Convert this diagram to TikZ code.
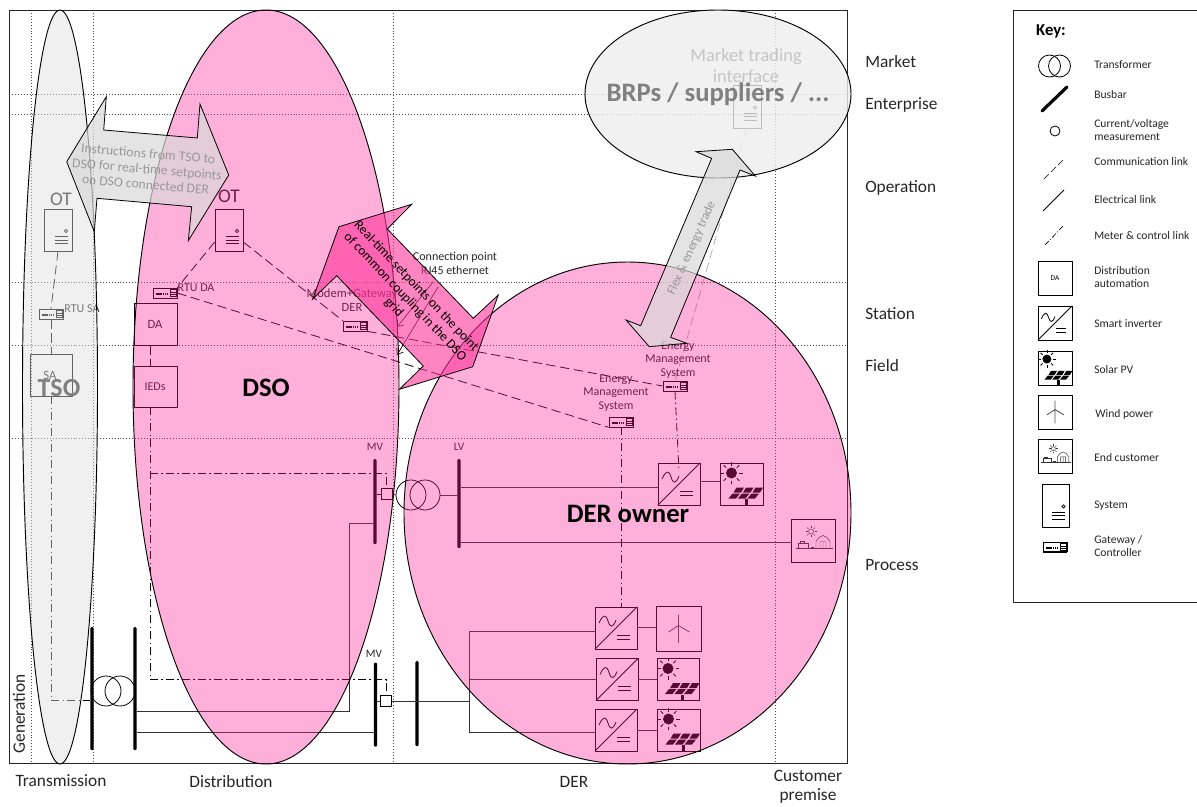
\documentclass[tikz,border=0pt]{standalone}
\usepackage{fontspec}
\setmainfont{Carlito}
\usetikzlibrary{arrows.meta,shapes.geometric}
\definecolor{dsopink}{RGB}{255,29,149}
\definecolor{arrowpink}{RGB}{255,51,153}
\tikzset{
 boxn/.style 2 args={draw,rectangle,line width=.6pt,minimum width=#1*0.75pt,minimum height=#2*0.75pt,inner sep=0pt},
 busn/.style 2 args={rectangle,fill=black,rounded corners=.9pt,minimum width=#1*0.75pt,minimum height=#2*0.75pt,inner sep=0pt},
 gate/.style={draw,rectangle,line width=.5pt,fill=white,minimum width=18pt,minimum height=7.5pt,inner sep=0pt},
 trafo/.style={draw,circle,line width=.6pt,minimum size=22.5pt,inner sep=0pt},
 elec/.style={line width=.75pt,black!80},
 comm/.style={line width=.6pt,dash pattern=on 7pt off 3.5pt},
 ctrl/.style={line width=.6pt,dash pattern=on 6pt off 2.5pt on 1pt off 2.5pt},
 gridline/.style={line width=.6pt,black!70,dash pattern=on .7pt off 1.5pt},
 lab/.style={inner sep=0pt,align=center,font=\fontsize{13}{14.5}\selectfont,text=black!85},
 keytxt/.style={inner sep=0pt,anchor=west,align=left,font=\fontsize{8.7}{10.2}\selectfont,text=black!85},
 small/.style={inner sep=0pt,align=center,font=\fontsize{9}{10.4}\selectfont,text=black!85},
 head/.style={inner sep=0pt,align=center,font=\bfseries\fontsize{20}{22}\selectfont},
 blockgrey/.style={draw=black,line width=.6pt,fill=black!15,fill opacity=.7},
 blockpink/.style={draw=black,line width=.6pt,fill=arrowpink,fill opacity=.6},
 arrowtxt/.style={inner sep=0pt,align=center,font=\fontsize{10.2}{11.6}\selectfont},
}
\newcommand{\invicon}[2]{\begin{scope}[shift={(#1.center)},scale=#2]
 \draw[line width=.6pt] (-21,21) -- (21,-21);
 \draw[line width=.6pt] (-17,-5) .. controls (-13,-14) and (-10,-14) .. (-8,-7) .. controls (-6,0) and (-3,0) .. (0,-8);
 \draw[line width=.6pt] (1,7) -- (14,7) (1,11) -- (14,11);
\end{scope}}
\newcommand{\solaricon}[2]{\begin{scope}[shift={(#1.center)},scale=#2]
 \fill (-10,-11) circle [radius=5.5];
 \foreach \a in {0,45,...,315} {\draw[line width=.6pt] ([shift={(\a:7.5)}]-10,-11) -- ([shift={(\a:11)}]-10,-11);}
 \foreach \i in {0,1,2} {
  \fill (-13+\i*9.5,14.5) -- (-5.5+\i*9.5,14.5) -- (-1.5+\i*9.5,9.5) -- (-9+\i*9.5,9.5) -- cycle;
  \fill (-8+\i*9.5,8.5) -- (-.5+\i*9.5,8.5) -- (2.5+\i*9.5,3.5) -- (-5+\i*9.5,3.5) -- cycle;
 }
 \fill (3,15) rectangle (6,21);
\end{scope}}
\newcommand{\windicon}[2]{\begin{scope}[shift={(#1.center)},scale=#2]
 \draw[line width=.6pt,black!70] (0,-3) -- (0,14) (0,-3) -- (0,-14) (0,-3) -- (-10,3.5) (0,-3) -- (11,3.5);
\end{scope}}
\newcommand{\customericon}[2]{\begin{scope}[shift={(#1.center)},scale=#2,line width=.35pt,black!80]
 \draw (-2,-9) circle [radius=2.5];
 \foreach \a in {0,45,...,315} {\draw ([shift={(\a:3.5)}]-2,-9) -- ([shift={(\a:5.5)}]-2,-9);}
 \draw (-17,8) -- (20,8);
 \draw (3,8) -- (3,1) -- (6,-3) -- (10,-5) -- (14,-3) -- (17,1) -- (17,8) (7,8) -- (7,1) -- (13,1) -- (13,8) (10,1) -- (10,8);
 \draw (-15,8) -- (-15,3) -- (-5,3) -- (-5,8) (-13,3) -- (-13,1) -- (-9,1) -- (-9,3);
 \fill (-2,6) rectangle (1,8);
\end{scope}}
\newcommand{\sysicon}[1]{\begin{scope}[shift={(#1.center)}]
 \draw[line width=.5pt] (8,1) circle [radius=1.6];
 \draw[line width=.5pt] (-3.3,6.7) -- (9.7,6.7) (-3.3,10) -- (9.7,10) (-3.3,13.7) -- (9.7,13.7);
\end{scope}}
\newcommand{\gateicon}[1]{\begin{scope}[shift={(#1.center)}]
 \draw[line width=1.2pt] (-12,5.5) -- (12,5.5);
 \draw[line width=.9pt,dash pattern=on 1pt off .4pt] (-9.5,1) -- (3,1);
 \draw[line width=.4pt] (5,-3.5) rectangle (11,3.5) (5,-1) -- (11,-1) (5,1) -- (11,1);
\end{scope}}
\begin{document}
\begin{tikzpicture}[x=0.75pt,y=-0.75pt]
\useasboundingbox (0,0) rectangle (1197,807);
% grid
\draw[gridline] (9,94) coordinate (ga) -- (847,94) coordinate (gb);
\draw[gridline] (9,114) coordinate (gc) -- (847,114) coordinate (gd);
\draw[gridline] (9,282) coordinate (ge) -- (847,282) coordinate (gf);
\draw[gridline] (9,345) coordinate (gg) -- (847,345) coordinate (gh);
\draw[gridline] (9,438.5) coordinate (gi) -- (847,438.5) coordinate (gj);
\draw[gridline] (31,10) coordinate (gk) -- (31,763) coordinate (gl);
\draw[gridline] (93,10) coordinate (gm) -- (93,763) coordinate (gn);
\draw[gridline] (393,10) coordinate (go) -- (393,763) coordinate (gp);
\draw[gridline] (775,10) coordinate (gq) -- (775,763) coordinate (gr);
\draw[line width=.6pt,black!85] (9,10) rectangle (847,763);
% buses
\node[busn={3.4}{123}] (b1) at (92,688.5) {};
\node[busn={3.4}{123}] (b2) at (135,688.5) {};
\node[busn={3.4}{84}] (b3) at (375.5,704.5) {};
\node[busn={3.4}{85}] (b4) at (417,703.5) {};
\node[busn={3.4}{85}] (mvb) at (375,501.5) {};
\node[busn={3.4}{89}] (lvb) at (459,503.5) {};
% transformers
\node[trafo] (t1l) at (106,691) {};
\node[trafo] (t1r) at (120,691) {};
\node[trafo] (t2l) at (411,495) {};
\node[trafo] (t2r) at (425,495) {};
% measurement squares
\node[boxn={11}{11}] (m1) at (386.5,494) {};
\node[boxn={11}{11},fill=white] (m2) at (386,701) {};
% power equipment
\node[boxn={42}{42}] (inv0) at (679,484) {};
\node[boxn={42}{42}] (inv1) at (616,628) {};
\node[boxn={42}{42}] (inv2) at (617,679.5) {};
\node[boxn={42}{42}] (inv3) at (616,730) {};
\node[boxn={43}{42}] (sol0) at (741.5,484) {};
\node[boxn={42}{42}] (sol2) at (678,679.5) {};
\node[boxn={43}{42}] (sol3) at (678.5,730) {};
\node[boxn={45}{45},line width=.4pt] (wind) at (678.5,628.5) {};
\node[boxn={44}{43},line width=.4pt] (cust) at (813,540.5) {};
\invicon{inv0}{1}\invicon{inv1}{1}\invicon{inv2}{1}\invicon{inv3}{1}
\solaricon{sol0}{1}\solaricon{sol2}{1}\solaricon{sol3}{1}
\windicon{wind}{1}\customericon{cust}{1}
% electrical links
\coordinate (e1) at (349.5,711);
\coordinate (e2) at (349.5,523);
\coordinate (e3) at (135,732);
\coordinate (e4) at (469,701);
\coordinate (e5) at (469,631);
\coordinate (e6) at (469,679.5);
\coordinate (e7) at (469,732);
\coordinate (e8) at (459,487);
\coordinate (e9) at (459,542);
\coordinate (e10) at (700,481);
\coordinate (e11) at (637,627);
\coordinate (e12) at (637,730);
\draw[elec] (e1 -| b2.east) -- (e1) -- (e2) -- (e2 -| mvb.west);
\draw[elec] (e3 -| b2.east) -- (e3 -| b3.west);
\draw[elec] (m2.west -| b3.east) -- (m2.west);
\draw[elec] (m2.east) -- (e4);
\draw[elec] (e5) -- (e7);
\draw[elec] (e5) -- (e5 -| inv1.west);
\draw[elec] (e6) -- (e6 -| inv2.west);
\draw[elec] (e7) -- (e7 -| inv3.west);
\draw[elec] (e8 -| lvb.east) -- (e8 -| inv0.west);
\draw[elec] (e9 -| lvb.east) -- (e9 -| cust.west);
\draw[elec] (e10) -- (e10 -| sol0.west);
\draw[elec] (e11) -- (e11 -| wind.west);
\draw[elec] (inv2.east) -- (sol2.west);
\draw[elec] (e12) -- (e12 -| sol3.west);
\draw[elec] (t2r.east) -- (t2r.east -| lvb.west);
\draw[line width=.5pt] (m1.west -| mvb.east) -- (m1.west);
\draw[line width=.5pt] (m1.east) -- (t2l.west);
% systems and boxes
\node[boxn={28}{42}] (osa) at (58,230) {};
\node[boxn={28}{42}] (odso) at (229,230) {};
\node[boxn={28}{43},line width=.5pt] (omkt) at (747,106.5) {};
\sysicon{osa}\sysicon{odso}\sysicon{omkt}
\node[boxn={42}{42}] (sa) at (51,375) {};
\node[boxn={43}{42}] (da) at (155.5,324) {};
\node[boxn={43}{41}] (ied) at (155.5,386.5) {};
% comm links
\coordinate (cda) at (150,345);
\coordinate (j3) at (150,679.5);
\coordinate (j4) at (386,679.5);
\coordinate (j5) at (150,473);
\coordinate (j6) at (386.5,473);
\coordinate (j7) at (51,700);
\node[gate] (gsa) at (51,314) {};
\node[gate] (gda) at (165,293) {};
\node[gate] (gm) at (355,326) {};
\node[gate] (ge1) at (675,386) {};
\node[gate] (ge2) at (621,422) {};
\draw[comm] (osa.south) -- (gsa.north);
\draw[comm] (gsa.south) -- (sa.north);
\draw[comm] (odso.220) -- (gda.north east);
\draw[comm] (odso.-40) -- (gm.north west);
\draw[comm] (gda.east) -- (ge2.south west);
\draw[comm] (gm.south east) -- (ge1.west);
\draw[comm] (da.south -| cda) -- (ied.north -| cda);
\draw[comm,black!30] (omkt.south) -- (ge1.north);
\draw[ctrl] (ied.south -| cda) -- (j3) -- (j4) -- (m2.north);
\draw[ctrl] (j5) -- (j6) -- (m1.north);
\draw[ctrl] (sa.south) -- (j7) -- (j7 -| b1.west);
\draw[ctrl] (ge2.south) -- (inv1.north -| ge2.south);
\draw[ctrl] (ge1.south) -- (inv0.center |- 0,471);
\gateicon{gsa}\gateicon{gda}\gateicon{gm}\gateicon{ge1}\gateicon{ge2}
% labels under the overlays
\node[lab,font=\fontsize{14.5}{16}\selectfont] (lota) at (61,199) {OT};
\node[lab,font=\fontsize{14.5}{16}\selectfont] (lotb) at (229,196) {OT};
\node[small] (lrsa) at (82,309) {RTU SA};
\node[small] (lrda) at (196,288) {RTU DA};
\node[small,font=\fontsize{9.4}{10.4}\selectfont] (lmod) at (352,300) {Modem+Gateway\\DER};
\node[small] (lem1) at (678,360) {Energy\\Management\\System};
\node[small] (lem2) at (616,393) {Energy\\Management\\System};
\node[small] (lconn) at (455,263) {Connection point\\RJ45 ethernet};
\node[small,font=\fontsize{8.5}{9}\selectfont] (lmv1) at (375,447) {MV};
\node[small,font=\fontsize{8.5}{9}\selectfont] (llv) at (459,447) {LV};
\node[small,font=\fontsize{8.5}{9}\selectfont] (lmv2) at (374,654) {MV};
\node[lab,font=\fontsize{9.5}{10}\selectfont] (lsa) at (50,375) {SA};
\node[lab,font=\fontsize{9.5}{10}\selectfont] (lda) at (155,324) {DA};
\node[lab,font=\fontsize{9}{10}\selectfont] (lied) at (155,387) {IEDs};
\node[lab,font=\fontsize{13.8}{16}\selectfont,black!85] (lmkt) at (746,65.5) {Market trading\\interface};
\coordinate (ar1) at (433,282);
\coordinate (ar2) at (438,287);
\coordinate (ar1e) at (397,327);
\coordinate (ar2e) at (397,355);
\draw[line width=.5pt,-{Straight Barb[length=4pt,width=6pt]}] (ar1) -- (ar1e);
\draw[line width=.5pt,-{Straight Barb[length=4pt,width=6pt]}] (ar2) -- (ar2e);
% overlays
\draw[line width=.7pt,fill=black!13,fill opacity=.45] (60,387) ellipse [x radius=37.5,y radius=377];
\draw[line width=.7pt,fill=dsopink,fill opacity=.35] (266,387) ellipse [x radius=133,y radius=377];
\draw[line width=.7pt,fill=dsopink,fill opacity=.35] (627.5,513) ellipse [x radius=223.5,y radius=251];
\draw[line width=.7pt,fill=black!7,fill opacity=.8] (718,94) ellipse [x radius=133,y radius=84];
\node[head,text=black!50,font=\bfseries\fontsize{19.5}{22}\selectfont] (ltso) at (59,388) {TSO};
\node[head] (ldso) at (266,388) {DSO};
\node[head] (lder) at (628,514) {DER owner};
\node[head,text=black!50] (lbrp) at (718,94) {BRPs / suppliers / ...};
% block arrows
\node[arrowtxt,rotate=-4.8] (linst) at (147,169) {Instructions from TSO to\\DSO for real-time setpoints\\on DSO connected DER};
\node[arrowtxt,font=\fontsize{9.6}{11}\selectfont,rotate=66] (lflex) at (691.7,248.3) {Flex \& energy trade};
\draw[blockgrey] (106.3,96.7) -- (103.7,130) -- (197.3,138) -- (200,104) -- (228.7,175) -- (188.3,240.7) -- (191.7,206.7) -- (97,198.3) -- (94.3,231.7) -- (66.7,161.7) -- cycle;
\draw[blockgrey] (732.3,149.3) -- (755.3,176) -- (740,170) -- (670.7,337.3) -- (686.7,343.3) -- (649.3,346.7) -- (626,320) -- (640.7,325.7) -- (711.7,158.3) -- (696,151.7) -- cycle;
\draw[blockpink] (411.7,204.3) -- (387.3,229) -- (473.3,318.3) -- (498.3,295) -- (472.7,366.7) -- (399.3,389.3) -- (423.3,366) -- (336.7,275.7) -- (312.7,299) -- (339,226.7) -- cycle;
\node[arrowtxt,font=\fontsize{10}{11.6}\selectfont,rotate=-46.5] (lreal) at (405,297) {Real-time setpoints on the point\\of common coupling in the DSO\\grid};
% side labels
\node[lab,anchor=west] (rmk) at (865,62) {Market};
\node[lab,anchor=west] (ren) at (865,104.5) {Enterprise};
\node[lab,anchor=west] (rop) at (865,187.5) {Operation};
\node[lab,anchor=west] (rst) at (865,314) {Station};
\node[lab,anchor=west] (rfi) at (865,366) {Field};
\node[lab,anchor=west] (rpr) at (865,565) {Process};
\node[lab,rotate=90] (bgen) at (19,714) {Generation};
\node[lab] (btr) at (61,781) {Transmission};
\node[lab] (bdi) at (231,782) {Distribution};
\node[lab] (bder) at (574,782) {DER};
\node[lab] (bcu) at (808,786.5) {Customer\\premise};
% key
\coordinate (k1) at (1197,10);
\coordinate (k2) at (1013,10);
\coordinate (k3) at (1013,602);
\coordinate (k4) at (1197,602);
\draw[line width=.7pt,black!85] (k1) -- (k2) -- (k3) -- (k4);
\node[inner sep=0pt,font=\bfseries\fontsize{12.5}{14}\selectfont] (kkey) at (1051,31) {Key:};
\node[trafo,minimum size=16.5pt] (ktl) at (1049.5,66) {};
\node[trafo,minimum size=16.5pt] (ktr) at (1059.5,66) {};
\node[keytxt] (kt1) at (1094,65) {Transformer};
\coordinate (kb1) at (1042,111);
\coordinate (kb2) at (1067,87);
\draw[line width=2.4pt,line cap=round] (kb1) -- (kb2);
\node[keytxt] (kt2) at (1094,95) {Busbar};
\node[draw,circle,line width=.6pt,minimum size=7.5pt,inner sep=0pt] (kc) at (1055,131) {};
\node[keytxt] (kt3) at (1094,130) {Current/voltage\\measurement};
\coordinate (kl1) at (1044,179);
\coordinate (kl2) at (1065,158);
\draw[line width=.5pt,dash pattern=on 5pt off 2.5pt] (kl1) -- (kl2);
\node[keytxt] (kt4) at (1094,162) {Communication link};
\coordinate (kl3) at (1043,211);
\coordinate (kl4) at (1064,190);
\draw[line width=.6pt] (kl3) -- (kl4);
\node[keytxt] (kt5) at (1094,200) {Electrical link};
\coordinate (kl5) at (1045,245);
\coordinate (kl6) at (1064,225);
\draw[line width=.5pt,dash pattern=on 4pt off 1.5pt on .7pt off 1.5pt] (kl5) -- (kl6);
\node[keytxt] (kt6) at (1094,236) {Meter \& control link};
\node[boxn={34}{34},font=\fontsize{5.5}{6}\selectfont] (kda) at (1055,278) {DA};
\node[keytxt] (kt7) at (1094,277) {Distribution\\automation};
\node[boxn={34}{34}] (kinv) at (1055,323) {};
\invicon{kinv}{.81}
\node[keytxt] (kt8) at (1094,324) {Smart inverter};
\node[boxn={34}{34}] (ksol) at (1055,368) {};
\solaricon{ksol}{.81}
\node[keytxt] (kt9) at (1094,370) {Solar PV};
\node[boxn={34}{34}] (kwi) at (1055,412) {};
\windicon{kwi}{.81}
\node[keytxt] (kt10) at (1095,414) {Wind power};
\node[boxn={34}{34},line width=.45pt] (kcu) at (1055,456) {};
\customericon{kcu}{.81}
\node[keytxt] (kt11) at (1094,458) {End customer};
\node[boxn={27}{43}] (ksy) at (1055.5,505.5) {};
\sysicon{ksy}
\node[keytxt] (kt12) at (1094,506) {System};
\node[gate,minimum height=7pt] (kga) at (1055,547) {};
\gateicon{kga}
\node[keytxt] (kt13) at (1094,546) {Gateway /\\Controller};
\end{tikzpicture}
\end{document}
